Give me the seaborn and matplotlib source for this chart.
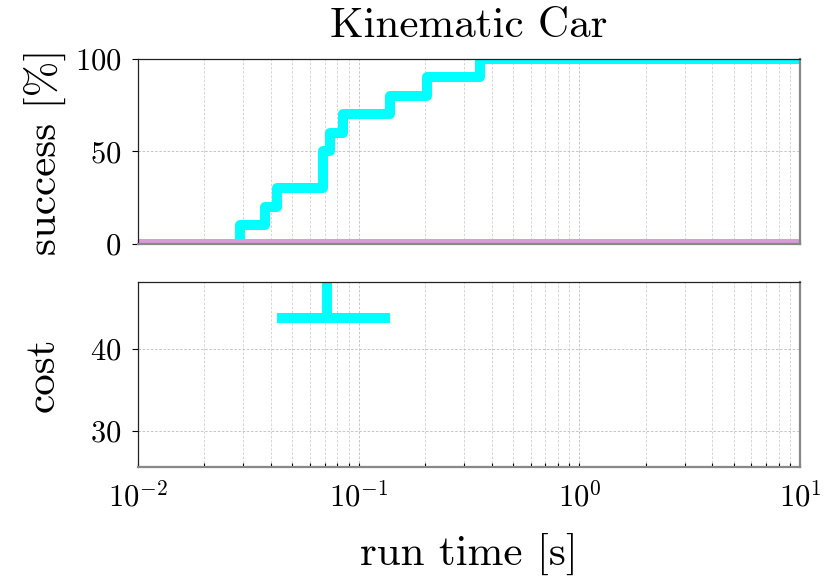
import numpy as np
import pandas as pd
import matplotlib
matplotlib.use("Agg")
import matplotlib.pyplot as plt
from matplotlib.ticker import LogLocator, FixedLocator, FuncFormatter, NullFormatter
import seaborn as sns

# success curve (steps) of the cyan planner
succ_time = [0.029, 0.029, 0.0376, 0.0425, 0.069, 0.0742, 0.085, 0.139, 0.203, 0.355, 10.0]
succ_pct = [0, 10, 20, 30, 50, 60, 70, 80, 90, 100, 100]

# second planner never succeeds
fail_time = [0.01, 10.0]
fail_pct = [0, 0]

# cost: median time/cost with time range and cost range
cost_time_med = 0.0718
cost_time_lo = 0.0427
cost_time_hi = 0.139
cost_med = 43.8
cost_hi = 70.0

sns.set_theme(style="white")
plt.rcParams['font.family'] = 'serif'
plt.rcParams['font.serif'] = ['cmr10']
plt.rcParams['mathtext.fontset'] = 'cm'
plt.rcParams['axes.formatter.use_mathtext'] = True
plt.rcParams['axes.unicode_minus'] = False
for k in ('text.color', 'axes.labelcolor', 'xtick.color', 'ytick.color'):
    plt.rcParams[k] = 'black'

fig, (ax1, ax2) = plt.subplots(2, 1, sharex=True, figsize=(8.31, 5.88), dpi=100)
fig.subplots_adjust(left=0.166, right=0.963, top=0.8997, bottom=0.206, hspace=0.205)

df_s = pd.DataFrame({'t': succ_time, 'p': succ_pct})
df_f = pd.DataFrame({'t': fail_time, 'p': fail_pct})
sns.lineplot(data=df_s, x='t', y='p', ax=ax1, color='#00ffff', lw=7.2,
             drawstyle='steps-post', estimator=None, sort=False, solid_joinstyle='round')
sns.lineplot(data=df_f, x='t', y='p', ax=ax1, color='#da9ada', lw=7.2,
             estimator=None, sort=False)

ax2.errorbar([cost_time_med], [cost_med],
             xerr=[[cost_time_med - cost_time_lo], [cost_time_hi - cost_time_med]],
             yerr=[[0], [cost_hi - cost_med]],
             fmt='none', ecolor='#00ffff', elinewidth=7.2, capsize=0)

for ax in (ax1, ax2):
    ax.set_xscale('log')
    ax.set_xlim(0.01, 10)
    ax.xaxis.set_major_locator(LogLocator(base=10, numticks=10))
    ax.xaxis.set_minor_locator(LogLocator(base=10, subs=np.arange(2, 10), numticks=20))
    ax.xaxis.set_minor_formatter(NullFormatter())
    ax.grid(True, which='major', axis='both', color='#bdbdbd', ls=(0, (3, 2)), lw=0.6)
    ax.grid(True, which='minor', axis='x', color='#cfcfcf', ls=(0, (3, 2)), lw=0.6)
    for side in ('left', 'top'):
        ax.spines[side].set_color('#222222')
        ax.spines[side].set_linewidth(0.9)
    for side in ('right', 'bottom'):
        ax.spines[side].set_color('#888888')
        ax.spines[side].set_linewidth(1.6)
    ax.tick_params(axis='y', which='major', direction='out', length=4, width=0.8,
                   left=True, labelsize=22, pad=8)
    ax.tick_params(axis='x', which='both', direction='in', length=3, width=0.8,
                   bottom=True, labelsize=22, pad=10)
    ax.set_xlabel('')

ax1.set_ylim(0, 100)
ax1.yaxis.set_major_locator(FixedLocator([0, 50, 100]))
ax1.set_ylabel('success [%]', fontsize=31, labelpad=6)
ax1.set_title('Kinematic Car', fontsize=31, pad=16)

ax2.set_ylim(25.6, 48.2)
ax2.yaxis.set_major_locator(FixedLocator([30, 40]))
ax2.set_ylabel('cost', fontsize=31, labelpad=20)
ax2.xaxis.set_major_formatter(FuncFormatter(lambda v, p: r'$10^{%d}$' % round(np.log10(v))))
ax2.set_xlabel('run time [s]', fontsize=31, labelpad=15)

fig.savefig('out.png', dpi=100)
